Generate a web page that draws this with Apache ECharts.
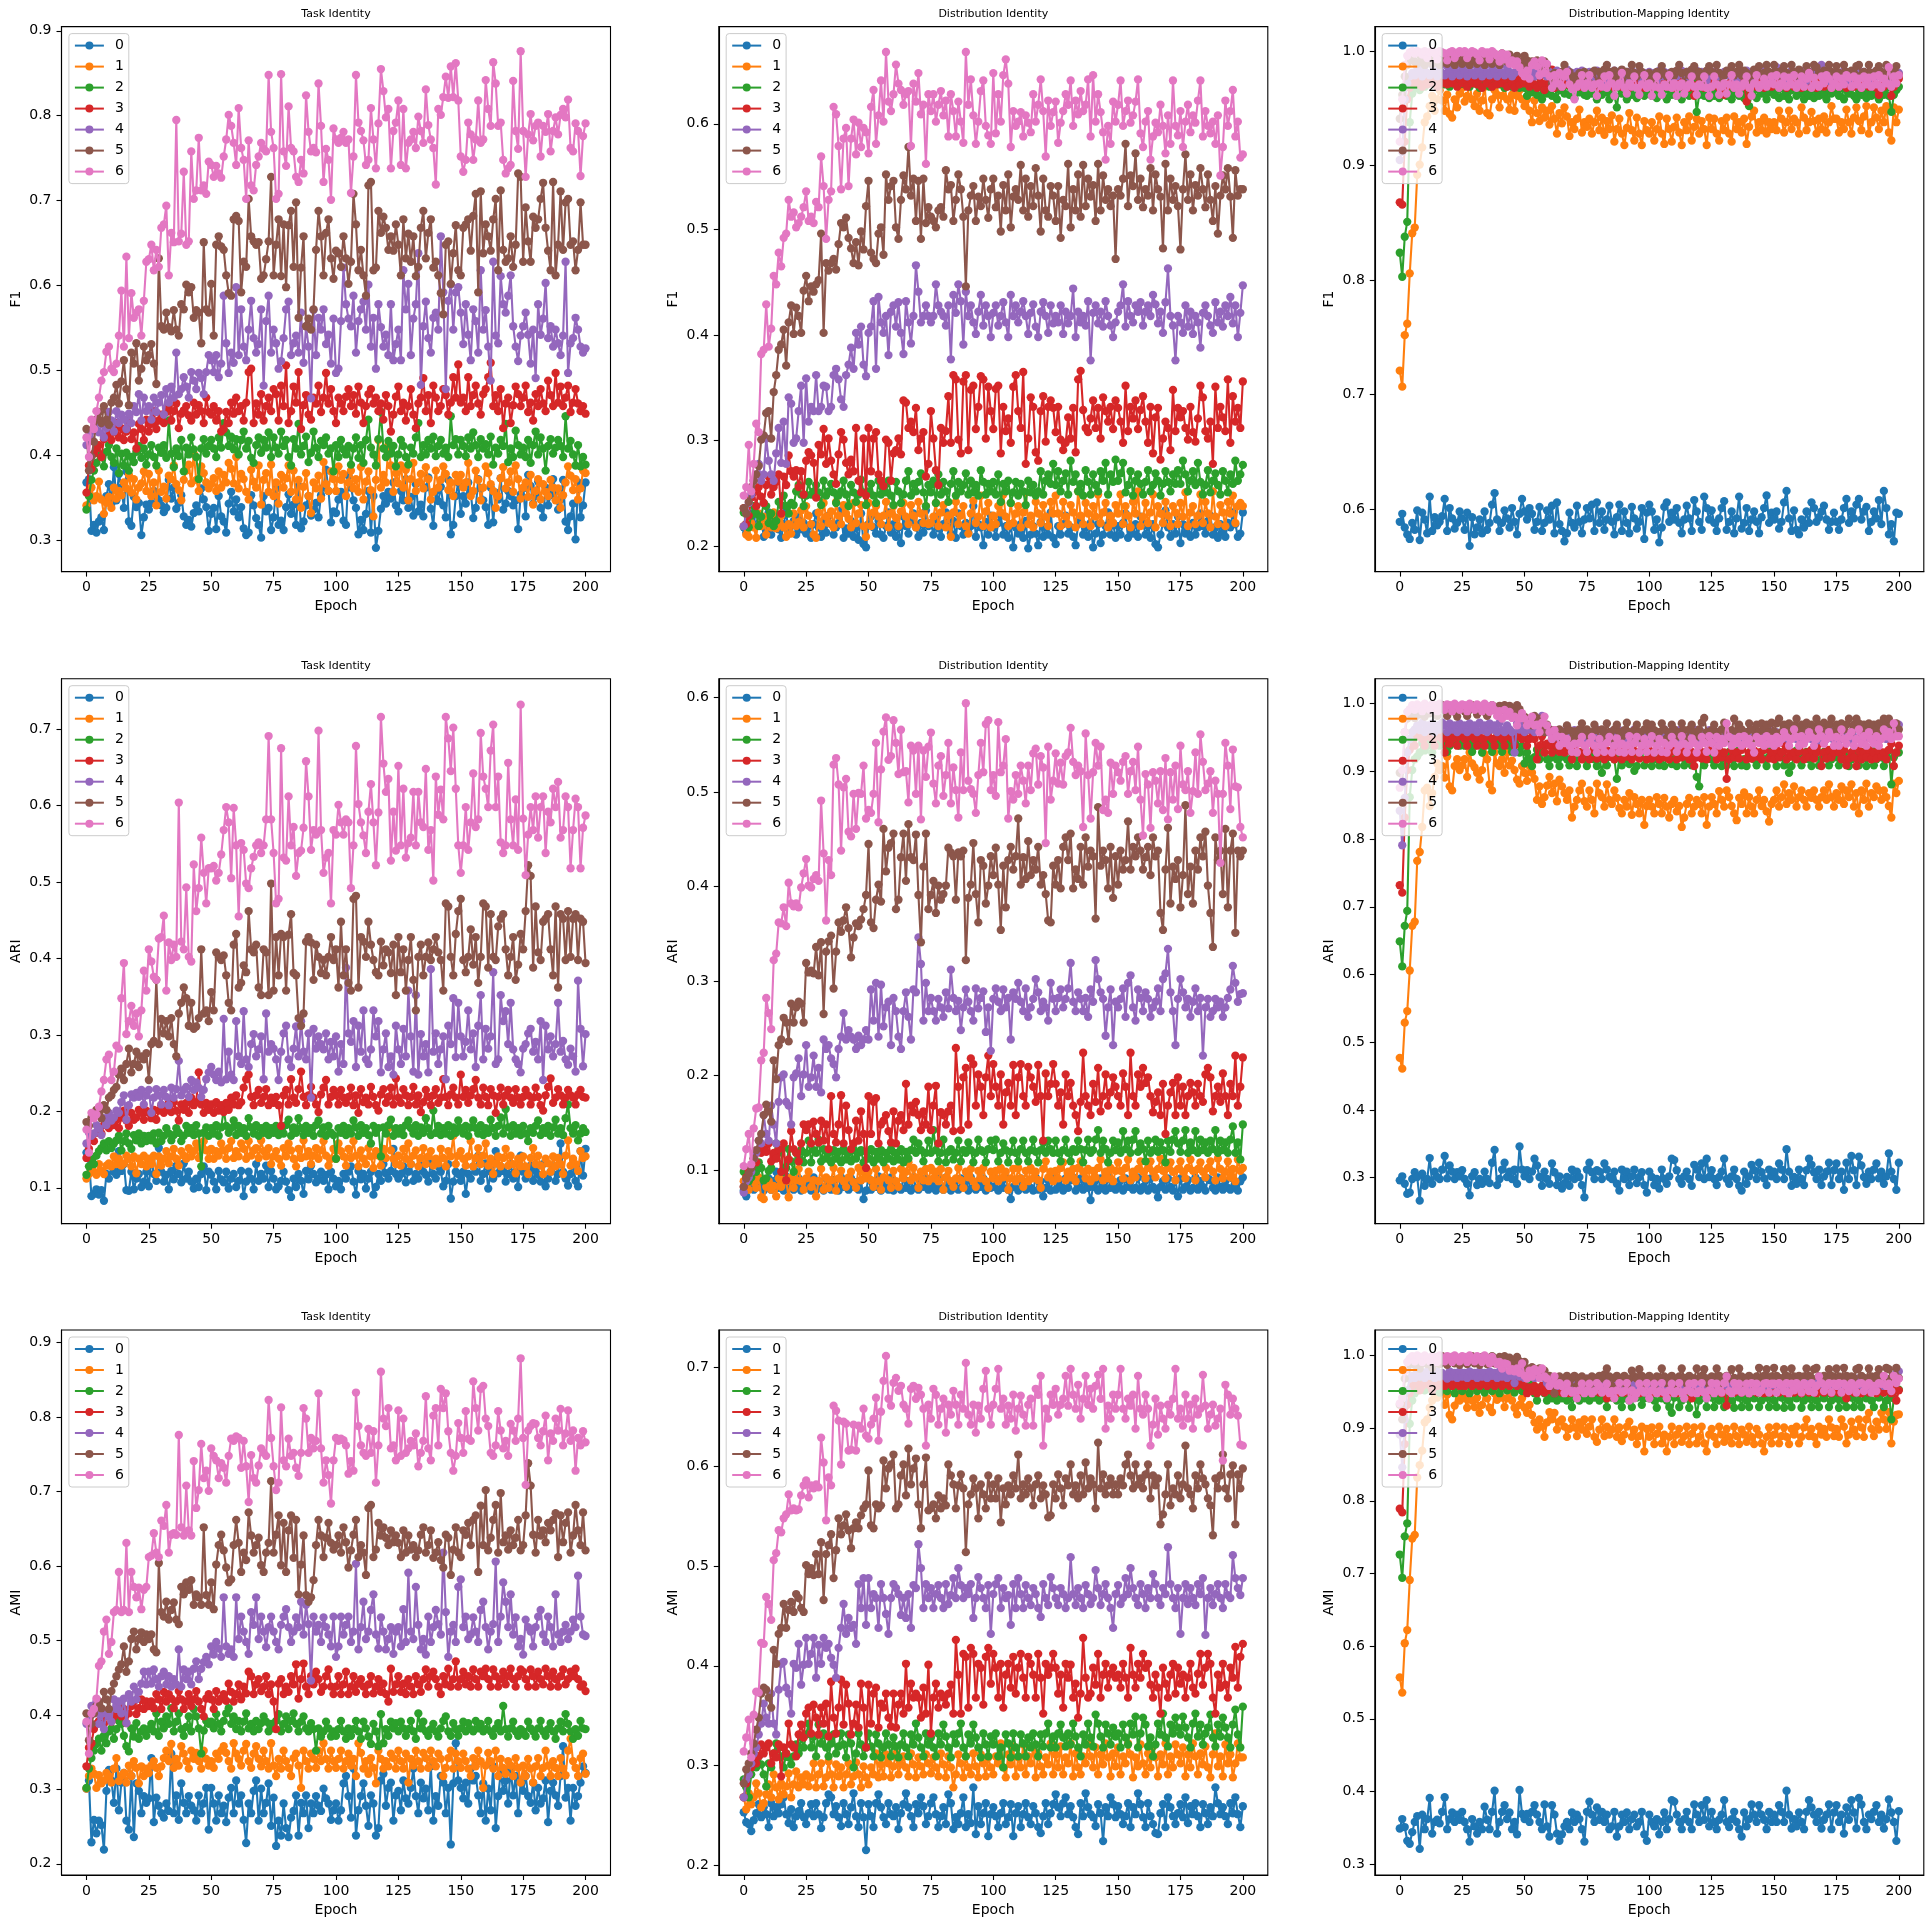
<!DOCTYPE html>
<html>
<head>
<meta charset="utf-8">
<title>Identity metrics per epoch</title>
<script src="https://cdn.jsdelivr.net/npm/echarts@6/dist/echarts.min.js"></script>
<style>
  html, body { margin: 0; padding: 0; background: #fff; }
  #chart { width: 1931px; height: 1927px; }
</style>
</head>
<body>
<div id="chart"></div>
<script>
// epochs 0..200 (x categories)
const epochs = Array.from({ length: 201 }, (_, i) => i);
const seriesNames = ['0', '1', '2', '3', '4', '5', '6'];
const colTitles = ['Task Identity', 'Distribution Identity', 'Distribution-Mapping Identity'];
const rowMetrics = ['F1', 'ARI', 'AMI'];
const xTicks = [0, 25, 50, 75, 100, 125, 150, 175, 200];

// y tick labels per panel [row][col]
const yTicks = [
  [[0.3, 0.4, 0.5, 0.6, 0.7, 0.8, 0.9], [0.2, 0.3, 0.4, 0.5, 0.6], [0.6, 0.7, 0.8, 0.9, 1.0]],
  [[0.1, 0.2, 0.3, 0.4, 0.5, 0.6, 0.7], [0.1, 0.2, 0.3, 0.4, 0.5, 0.6], [0.3, 0.4, 0.5, 0.6, 0.7, 0.8, 0.9, 1.0]],
  [[0.2, 0.3, 0.4, 0.5, 0.6, 0.7, 0.8, 0.9], [0.2, 0.3, 0.4, 0.5, 0.6, 0.7], [0.3, 0.4, 0.5, 0.6, 0.7, 0.8, 0.9, 1.0]]
];
// y axis limits per panel [row][col] -> [min, max]
const yLimits = [
  [[0.263, 0.905], [0.176, 0.692], [0.5455, 1.0215]],
  [[0.053, 0.766], [0.043, 0.620], [0.232, 1.037]],
  [[0.185, 0.917], [0.190, 0.737], [0.285, 1.035]]
];

// scores in thousandths, one list per cluster 0..6, one value per epoch 0..200
const f1Task = [
  [368,372,311,318,309,322,327,312,352,366,343,386,347,378,362,338,381,322,317,351,339,344,306,327,342,
   336,344,358,352,347,341,333,338,371,349,362,337,344,353,328,318,324,316,332,341,334,361,348,339,311,
   331,338,313,352,328,322,309,343,357,334,348,327,339,314,306,309,353,341,326,318,303,352,334,338,312,
   327,361,318,323,312,339,354,331,342,318,364,314,322,341,352,329,336,344,327,353,362,383,358,321,334,
   332,348,357,323,318,376,362,347,338,307,324,312,331,358,309,352,291,311,337,352,343,357,349,368,341,
   334,358,347,372,338,351,329,366,334,342,328,362,374,337,317,358,346,363,341,327,371,307,318,352,368,
   331,352,343,368,357,326,338,372,361,347,339,318,362,321,356,348,373,336,343,358,352,341,347,313,354,
   361,328,377,364,343,352,369,338,327,362,341,353,372,358,336,348,371,322,312,328,343,301,368,327,341,
   368],
  [341,353,362,347,352,369,348,331,344,351,338,362,349,358,353,368,361,377,356,372,348,362,367,381,358,
   378,352,368,341,382,357,363,349,376,372,388,366,359,347,371,382,389,367,402,371,358,387,379,368,361,
   366,373,358,381,362,377,368,391,384,367,398,361,378,372,357,348,383,369,362,388,342,371,379,357,389,
   352,368,343,377,362,373,388,357,382,348,371,338,363,379,352,332,368,361,376,349,392,366,358,381,372,
   358,387,371,378,352,368,382,361,372,357,386,348,369,381,359,328,371,418,362,377,368,412,388,357,379,
   367,388,362,383,347,372,391,358,368,378,361,386,372,348,357,382,362,371,387,378,359,368,352,377,369,
   377,362,368,391,352,358,382,371,347,362,387,379,366,358,338,352,373,386,361,368,381,357,388,372,349,
   362,368,351,377,342,358,372,348,366,357,352,371,362,347,361,338,353,368,387,376,359,372,348,361,382,
   379],
  [336,352,371,382,391,402,398,387,404,412,398,391,408,379,402,388,403,382,398,392,404,411,397,408,389,
   401,412,398,388,409,403,412,397,441,402,386,408,399,418,381,409,401,421,407,398,372,408,419,402,411,
   418,408,398,421,409,438,427,411,422,407,419,401,418,428,408,417,397,391,412,421,403,418,409,427,398,
   421,409,402,428,411,418,398,388,419,408,437,401,411,422,392,403,428,409,398,417,412,421,402,408,381,
   412,398,418,407,401,411,389,408,421,397,412,391,418,442,409,401,388,419,451,408,398,417,402,411,387,
   401,418,411,398,389,409,402,421,438,398,412,401,418,408,422,399,411,418,402,409,398,446,412,419,401,
   418,411,399,421,408,427,412,398,419,408,413,401,422,389,409,402,418,411,437,392,408,398,429,412,401,
   409,398,418,391,412,428,401,421,408,382,411,419,402,409,418,411,398,446,408,417,401,388,412,387,398,
   389],
  [356,388,384,402,408,412,398,419,422,428,418,427,438,421,432,418,428,441,419,427,408,437,431,418,442,
   428,437,452,431,441,448,438,451,458,441,452,461,432,449,453,458,447,441,462,448,459,452,438,468,451,
   448,458,441,452,428,431,451,438,462,449,468,452,458,441,462,498,502,438,461,448,472,441,458,468,452,
   478,472,441,482,458,506,438,452,481,462,498,431,459,471,448,442,468,461,482,451,468,497,461,478,452,
   438,468,461,452,469,478,458,471,449,481,462,438,458,472,478,461,468,452,461,442,471,458,428,448,469,
   481,452,462,441,458,478,448,432,461,468,491,452,471,438,482,468,452,458,478,471,448,462,492,468,507,
   462,468,452,492,458,471,482,461,448,472,478,492,509,458,471,452,478,432,461,468,438,459,481,472,458,
   468,482,451,462,441,472,458,478,461,452,488,471,458,497,462,481,458,468,482,451,462,478,461,452,458,
   449],
  [412,428,418,431,442,427,438,421,432,451,441,428,452,438,448,442,431,449,438,458,451,472,441,468,452,
   458,442,468,451,462,471,448,478,462,481,468,521,472,478,492,481,468,498,488,478,497,491,472,498,518,
   512,498,518,492,508,588,532,497,521,509,598,518,572,528,512,548,582,538,521,531,572,482,558,588,521,
   548,532,502,511,538,572,581,518,532,541,521,568,509,552,528,467,571,518,562,548,572,531,542,508,561,
   497,502,558,621,578,561,552,588,521,558,572,581,548,601,528,562,502,578,551,528,542,518,578,512,531,
   548,512,618,572,602,518,561,578,638,483,552,581,538,521,562,568,548,658,592,478,582,601,548,592,598,
   568,531,578,542,512,572,558,521,618,548,571,528,488,628,541,532,611,578,568,588,612,552,528,511,541,
   552,568,542,508,548,491,578,542,561,603,538,552,528,548,532,518,541,628,497,532,538,562,548,528,521,
   526],
  [431,382,398,416,442,451,438,458,442,436,462,468,483,461,487,512,478,459,521,508,532,488,502,528,512,
   518,531,508,484,632,552,548,568,551,546,571,548,541,578,572,601,592,598,562,571,568,532,651,572,568,
   602,541,648,658,646,642,612,591,588,678,682,676,592,628,622,702,658,652,648,651,608,612,631,652,728,
   612,648,678,611,672,598,671,688,622,698,562,621,658,552,561,548,572,642,688,658,612,662,678,632,608,
   641,638,622,658,632,602,628,708,672,618,642,612,588,718,722,618,621,688,662,681,668,642,658,641,672,
   648,612,678,632,661,628,658,611,622,668,688,632,662,678,621,628,612,591,566,648,652,602,638,671,618,
   612,668,672,678,641,682,708,592,711,638,672,658,641,678,702,618,712,642,628,632,658,622,648,732,728,
   628,692,652,628,681,668,678,702,721,668,641,618,722,612,648,711,642,698,702,648,652,618,642,698,648,
   648],
  [421,398,442,431,452,468,488,498,522,528,502,498,508,541,594,528,634,538,591,562,568,572,541,582,628,
   631,648,618,642,622,668,672,694,612,662,651,795,652,661,734,648,652,758,702,712,774,712,718,708,746,
   742,728,741,732,727,752,772,801,788,768,742,809,762,748,702,771,718,712,742,752,768,761,758,848,781,
   762,702,708,849,758,741,811,762,758,728,722,748,732,824,781,758,762,757,838,788,722,761,748,701,785,
   772,768,774,781,768,772,709,752,848,792,782,771,742,748,809,772,738,791,855,829,798,808,738,782,792,
   818,742,808,738,768,772,781,762,799,782,768,831,789,772,762,719,808,801,822,846,821,858,822,862,818,
   752,734,748,792,778,748,772,818,768,772,842,808,788,863,838,788,792,748,732,738,742,841,782,761,876,
   782,728,778,802,771,788,792,752,788,781,802,758,782,798,778,801,808,798,819,762,758,791,782,729,776,
   791]
];

const f1Dist = [
  [218,213,224,231,219,238,222,228,209,217,232,211,223,229,216,208,221,233,212,219,224,211,228,216,222,
   212,219,208,221,231,218,209,224,213,229,221,211,218,222,234,208,217,212,224,209,218,206,231,202,199,
   221,228,218,212,224,211,208,219,232,213,221,209,218,203,228,219,212,224,231,218,209,222,213,234,219,
   222,211,228,217,209,221,232,218,212,224,208,231,219,211,222,213,219,238,209,221,218,201,223,211,229,
   218,209,222,229,211,219,208,221,199,218,212,221,208,224,198,211,219,212,201,223,209,218,211,232,208,
   202,219,211,221,229,212,218,209,201,221,224,211,218,209,222,199,212,221,203,211,219,232,211,222,208,
   219,211,222,231,208,218,212,221,209,228,222,211,219,208,221,202,199,211,222,234,218,209,221,212,228,
   203,221,212,219,209,222,211,218,231,219,212,224,229,211,218,208,221,213,209,222,218,232,221,209,212,
   232],
  [219,211,209,222,218,208,231,219,228,211,221,218,232,217,222,229,218,209,221,212,231,219,223,234,218,
   238,229,221,211,208,232,219,241,228,222,233,218,242,229,221,239,231,226,218,241,222,231,239,219,209,
   241,219,232,238,228,221,229,242,218,231,238,227,219,233,241,228,221,239,229,218,242,231,222,238,221,
   222,228,241,219,232,239,218,229,209,232,242,221,229,238,219,212,231,243,222,228,248,219,233,241,218,
   229,221,238,232,249,228,219,241,222,231,238,218,232,251,221,229,218,242,231,222,239,228,219,242,231,
   248,231,219,242,228,221,239,232,218,252,229,221,241,231,219,238,228,249,222,232,241,218,229,222,239,
   231,249,221,238,229,218,242,231,252,219,228,241,222,232,249,218,238,231,222,242,229,219,238,232,221,
   241,228,251,219,232,238,221,229,249,222,242,231,218,252,228,221,239,232,219,242,231,248,222,238,241,
   238],
  [232,221,218,229,238,231,219,228,241,238,222,231,219,224,242,239,248,238,231,241,239,252,258,249,238,
   248,261,249,252,258,251,239,262,248,252,259,251,241,248,252,262,249,238,258,251,242,249,263,251,239,
   252,259,248,241,262,249,258,251,262,248,239,261,252,241,249,262,271,248,259,252,261,269,251,238,258,
   251,262,241,268,249,261,252,242,259,271,248,261,252,258,269,249,262,251,258,248,272,261,249,259,252,
   261,249,268,242,259,252,262,241,251,261,248,259,252,239,262,251,258,248,252,271,249,262,268,259,278,
   258,271,252,262,269,249,281,261,268,252,259,248,272,261,249,268,258,252,271,262,279,249,268,261,282,
   262,269,279,251,258,271,248,262,268,259,249,261,272,252,258,269,262,248,259,271,261,252,268,259,272,
   259,281,268,252,262,271,258,279,261,249,258,272,251,262,269,258,249,271,262,251,268,259,281,262,268,
   277],
  [236,221,229,246,251,238,256,247,241,258,266,249,256,261,268,231,266,258,286,271,266,272,256,271,249,
   281,289,286,279,246,296,287,311,278,302,281,268,259,287,308,301,279,268,282,271,312,262,251,302,248,
   312,271,302,308,268,262,257,301,298,262,288,291,302,287,338,336,312,318,308,331,291,302,308,266,278,
   328,302,272,258,312,298,309,342,298,362,358,301,288,356,362,291,348,352,311,332,361,358,302,351,328,
   311,349,352,288,332,309,321,298,351,362,328,312,365,278,302,341,332,289,281,328,342,299,332,338,331,
   308,332,301,291,298,322,302,331,289,358,366,329,312,308,321,338,312,331,302,341,328,318,332,311,338,
   331,318,298,352,309,332,321,338,311,329,342,318,298,332,288,322,331,282,302,318,312,291,348,309,331,
   322,328,312,301,332,308,299,321,352,341,309,302,318,278,351,312,332,322,309,358,298,342,318,331,312,
   356],
  [219,232,241,249,262,268,278,262,268,302,281,268,262,288,312,279,318,278,341,335,298,302,328,352,298,
   359,318,332,328,362,328,332,352,351,328,332,362,368,358,339,332,362,372,388,368,402,391,408,372,361,
   402,408,432,368,436,412,402,418,381,422,428,408,431,402,382,432,412,392,418,466,441,412,418,428,418,
   412,418,448,428,422,418,409,428,377,438,421,448,432,391,441,418,428,412,401,422,438,409,428,418,398,
   421,428,409,418,431,412,398,438,418,428,412,422,432,418,401,421,429,408,398,422,431,418,402,428,411,
   418,412,428,401,422,411,418,444,398,422,412,418,409,432,376,421,428,411,422,408,432,418,409,398,412,
   422,428,448,408,432,418,412,428,422,431,409,422,428,418,438,429,411,422,402,431,463,418,409,376,418,
   412,402,428,408,422,401,418,412,388,421,428,418,409,402,431,412,422,408,428,418,436,411,428,398,421,
   447],
  [236,231,242,256,262,268,276,301,305,326,328,302,346,362,386,391,405,371,412,428,401,426,418,402,442,
   456,432,446,441,448,452,496,402,468,461,468,472,462,486,506,502,511,492,482,468,488,466,498,481,522,
   546,478,472,468,496,502,476,552,528,541,546,502,491,528,551,538,578,532,548,508,546,491,548,506,521,
   512,508,502,518,521,512,556,538,542,508,528,552,538,512,446,518,532,541,508,531,522,548,528,511,538,
   548,521,532,498,542,518,552,502,531,538,528,561,518,548,512,541,522,558,532,498,548,518,512,541,532,
   508,541,492,528,522,562,502,538,518,552,512,561,522,548,531,542,508,562,518,551,528,538,522,532,472,
   538,532,548,581,522,551,541,572,528,548,521,538,532,558,518,552,538,531,482,562,518,548,528,541,522,
   481,538,571,528,552,518,542,532,558,538,521,552,528,508,541,496,532,551,538,558,531,492,556,532,538,
   538],
  [248,256,296,252,278,316,308,382,386,429,389,406,456,448,478,465,492,496,528,512,516,502,506,512,521,
   536,508,512,506,526,521,569,541,491,528,536,616,609,579,538,586,596,541,586,604,571,601,578,596,592,
   572,616,632,581,608,641,602,668,621,612,628,656,638,632,618,628,631,579,638,621,648,609,618,562,628,
   612,628,602,618,631,608,622,588,628,612,588,621,602,582,668,618,642,608,581,602,631,641,598,589,581,
   648,591,628,602,646,661,638,578,612,598,602,611,588,608,601,592,628,602,618,642,612,569,622,598,611,
   621,582,601,612,628,618,641,598,622,609,631,612,618,642,588,646,602,628,611,592,566,598,581,621,602,
   618,641,598,612,622,601,608,621,642,591,578,602,612,566,588,601,592,618,598,572,608,581,641,598,589,
   612,578,602,618,592,608,601,622,641,588,612,598,591,602,581,608,551,578,622,598,612,632,588,602,568,
   571]
];

const f1DistMap = [
  [589,596,584,578,574,588,582,599,573,597,591,579,611,581,593,586,589,594,609,581,601,592,583,588,598,
   592,582,597,568,593,578,584,591,579,598,582,588,604,614,591,581,588,599,592,584,601,589,578,596,609,
   598,591,601,596,582,589,602,581,588,599,591,603,579,606,587,581,572,579,597,588,584,603,589,579,591,
   601,592,604,581,606,588,598,582,591,603,589,578,593,604,581,598,588,579,602,592,583,589,601,574,597,
   604,598,582,591,571,584,602,606,589,597,591,601,588,579,591,603,592,581,608,598,589,582,611,601,591,
   599,588,581,592,601,607,582,589,598,579,592,611,583,588,601,581,591,598,589,579,593,601,612,588,597,
   591,598,583,589,606,616,592,581,599,582,578,591,584,598,588,606,601,589,593,598,603,591,582,589,597,
   589,582,591,601,609,588,598,592,604,609,591,598,602,581,589,598,592,608,587,616,601,578,587,572,597,
   596],
  [721,707,752,762,806,841,846,892,901,916,938,943,952,961,948,958,966,957,948,962,945,942,958,951,963,
   968,956,961,971,958,952,963,948,957,969,946,944,958,966,962,951,961,968,958,949,962,948,961,966,958,
   952,958,948,938,957,946,939,951,942,948,936,952,941,928,946,937,951,943,926,938,932,941,949,929,938,
   934,941,928,938,948,931,942,927,939,932,944,921,932,941,928,918,933,946,931,922,942,928,918,939,931,
   928,938,922,932,943,928,919,941,932,921,934,942,929,918,938,931,943,922,934,941,928,939,932,918,942,
   932,941,928,922,939,931,942,928,921,943,932,938,929,941,919,934,943,948,929,938,931,942,928,938,932,
   938,931,948,941,929,938,948,932,941,938,928,951,942,931,938,947,939,928,941,932,943,929,938,952,941,
   941,929,938,932,949,938,928,942,951,939,931,943,952,928,938,951,942,932,948,938,952,929,922,951,938,
   949],
  [824,803,838,851,938,963,968,971,966,972,969,978,972,976,971,978,973,977,971,976,969,978,972,977,971,
   976,971,978,969,977,972,976,968,978,971,977,969,976,972,978,971,976,968,972,977,969,976,972,968,976,
   968,961,972,964,969,962,971,958,966,963,968,961,972,958,966,969,963,971,962,967,959,968,964,971,962,
   961,968,963,969,958,966,962,971,964,958,966,961,951,968,963,969,958,966,962,971,959,964,968,961,966,
   968,961,966,959,971,963,968,958,966,962,969,961,967,958,964,968,961,966,972,947,962,968,961,966,959,
   966,961,968,959,964,969,961,966,958,963,968,961,966,959,964,952,962,968,959,966,963,969,958,964,968,
   962,966,959,968,961,964,958,966,969,961,963,968,958,964,961,967,959,965,961,968,962,958,966,963,969,
   964,961,968,958,966,963,969,961,958,966,962,968,959,964,961,967,962,958,965,962,968,961,947,962,966,
   969],
  [868,866,921,958,968,972,978,971,977,969,976,971,978,972,976,969,977,972,978,971,976,972,977,969,976,
   972,978,969,976,972,978,971,976,968,977,972,976,969,978,971,977,972,976,969,978,972,968,977,971,976,
   972,978,969,976,971,968,977,972,966,978,971,984,968,976,972,969,977,971,976,968,972,977,969,972,976,
   971,976,969,972,977,968,972,976,969,971,977,968,972,976,969,972,978,968,971,976,969,972,977,968,972,
   976,969,972,977,968,971,976,969,972,977,968,971,976,969,972,978,968,971,961,969,972,977,968,972,976,
   969,972,977,968,971,962,969,972,976,968,971,977,969,972,956,968,971,976,969,972,977,968,971,976,969,
   971,976,969,972,977,968,971,976,969,972,977,968,971,976,969,972,977,968,971,976,969,972,977,968,971,
   976,969,972,977,968,971,976,969,972,977,968,971,976,969,972,978,968,962,971,969,976,972,961,969,972,
   976],
  [905,912,958,972,978,981,979,986,982,978,987,981,979,988,982,978,986,981,979,987,982,978,986,981,979,
   986,982,978,987,981,979,986,982,978,987,981,979,986,982,978,987,981,979,986,982,978,981,983,987,981,
   979,982,986,981,978,982,979,987,981,978,982,979,981,983,978,982,979,984,976,981,979,982,978,983,981,
   978,982,974,981,983,979,981,978,972,982,979,983,978,981,979,974,982,978,983,981,979,982,973,981,978,
   982,979,981,974,983,978,982,979,981,973,982,978,981,983,979,982,976,978,981,983,979,982,978,974,981,
   979,982,978,981,973,982,979,983,978,981,974,982,979,981,983,978,982,974,981,979,983,978,982,979,974,
   981,986,979,982,978,973,981,983,979,982,978,981,983,974,979,982,978,981,983,988,979,982,974,981,978,
   982,979,981,983,978,974,982,979,981,983,978,982,979,973,981,979,983,978,982,979,981,974,983,979,982,
   981],
  [941,962,978,988,992,996,991,989,997,992,988,996,993,989,997,991,988,996,992,989,997,991,988,996,992,
   989,997,991,988,996,992,989,997,991,988,996,992,989,997,991,988,998,996,991,997,992,989,996,991,988,
   996,992,989,991,988,992,989,981,991,987,979,972,981,978,969,982,988,979,982,971,978,969,981,978,982,
   979,972,981,983,971,982,979,984,988,982,978,983,972,979,984,971,982,979,988,981,978,987,982,979,972,
   981,978,972,982,979,987,981,978,971,982,979,983,988,981,972,982,979,984,987,978,982,973,979,983,987,
   982,979,988,981,972,979,983,981,987,979,982,988,979,983,981,972,979,984,982,987,979,981,988,982,979,
   988,982,979,983,987,981,979,988,982,979,984,981,979,987,982,978,988,986,981,979,983,979,988,982,979,
   987,981,979,988,982,979,983,981,987,988,979,982,978,988,981,979,983,987,982,979,988,981,978,983,987,
   979],
  [921,958,988,996,999,1000,998,1000,999,997,1000,994,999,1000,998,993,1000,999,998,992,999,1000,994,998,1000,
   999,1000,994,998,1000,999,997,992,1000,998,999,993,1000,998,996,991,998,993,997,989,992,988,991,986,981,
   978,983,976,988,991,987,979,992,981,989,978,968,979,972,981,969,978,982,971,967,958,969,972,979,968,
   972,979,968,971,961,972,969,978,968,979,972,961,969,972,981,968,963,972,969,978,968,962,971,979,968,
   972,961,969,978,968,962,971,969,979,968,972,961,969,972,963,968,971,978,969,962,971,969,978,968,961,
   969,978,971,962,969,972,963,971,979,968,971,963,969,972,978,968,961,972,979,968,971,976,969,972,978,
   971,979,968,972,978,969,977,971,979,968,972,978,969,976,981,968,977,971,969,978,972,979,976,968,972,
   978,969,976,971,979,977,969,978,971,976,968,978,971,977,969,978,971,979,968,976,972,986,969,978,972,
   979]
];

const ariTask = [
  [146,138,89,92,98,91,97,83,118,112,128,121,117,148,122,131,97,96,121,98,112,118,101,108,121,
   102,137,118,109,152,121,108,117,98,122,111,129,118,107,132,112,121,108,99,112,101,118,128,97,121,
   117,108,98,122,111,107,121,99,112,118,101,109,122,89,108,121,112,98,131,109,118,112,129,101,122,
   112,98,102,109,121,108,97,88,112,101,118,109,92,122,111,129,118,107,112,121,109,117,98,121,112,
   102,109,98,118,112,121,128,108,91,122,111,118,99,112,121,91,101,118,109,131,119,112,122,151,118,
   112,118,128,107,121,131,109,118,112,129,121,117,108,132,118,112,128,121,102,109,131,86,108,121,118,
   109,121,92,118,112,128,121,142,109,118,132,99,121,112,148,119,128,122,108,118,131,112,121,101,142,
   121,112,118,129,109,122,117,108,131,102,112,121,128,109,118,158,121,112,103,118,131,109,102,148,116,
   151],
  [112,118,128,121,117,131,122,118,129,132,128,141,131,138,129,132,142,138,128,141,119,138,131,142,128,
   138,131,142,118,141,129,138,148,132,141,151,138,129,148,142,138,152,141,148,158,139,152,161,149,138,
   151,138,148,142,158,149,138,152,161,139,148,141,158,151,138,161,142,149,152,139,162,148,141,152,131,
   141,148,138,129,152,141,158,149,138,128,151,139,162,141,148,131,142,152,138,149,161,142,129,138,151,
   138,158,148,141,129,151,139,161,142,128,149,138,131,152,141,126,148,142,129,151,139,178,149,138,131,
   142,129,151,138,158,131,142,149,128,139,152,131,141,148,129,138,132,151,139,128,148,141,168,131,142,
   148,138,129,141,161,128,139,152,131,142,158,129,138,118,132,141,128,139,151,129,142,131,119,138,128,
   141,128,118,139,152,131,142,129,118,138,132,121,141,128,139,131,118,142,162,129,138,131,122,148,139,
   141],
  [117,128,138,131,142,148,152,158,149,161,152,158,162,168,149,161,171,158,151,169,162,171,158,168,161,
   168,162,171,158,172,161,168,178,171,162,169,178,172,161,168,181,172,178,169,182,171,128,172,179,168,
   178,171,182,168,179,202,181,172,178,188,169,181,172,178,168,191,179,171,182,168,178,172,181,169,178,
   172,181,169,178,171,182,189,168,179,172,191,178,169,181,172,178,168,182,188,171,179,168,181,172,169,
   138,178,172,181,169,178,171,188,179,168,182,172,178,169,158,181,172,178,141,179,171,182,189,168,178,
   171,178,169,182,188,178,171,182,168,179,172,191,178,169,201,172,181,169,178,171,182,168,179,172,188,
   178,171,181,168,179,188,178,171,182,169,178,172,189,178,168,181,192,171,203,179,168,182,171,178,169,
   181,171,161,178,172,181,188,169,178,172,181,168,179,189,171,178,169,191,209,178,171,182,162,171,178,
   173],
  [139,151,168,161,172,178,171,182,188,178,191,182,189,178,192,201,188,181,198,189,192,202,198,189,201,
   198,191,202,189,201,208,198,202,211,199,212,201,188,209,202,211,198,218,208,212,251,209,198,211,202,
   209,198,212,201,208,199,211,202,218,209,221,208,212,231,242,248,219,208,221,228,211,219,229,208,218,
   211,219,208,181,221,228,209,242,218,211,229,252,219,208,221,232,218,209,199,222,231,241,209,219,228,
   221,209,228,218,211,219,231,208,221,198,229,212,218,209,232,219,208,201,222,229,211,219,231,209,243,
   218,211,229,221,208,219,232,209,221,199,212,228,219,208,221,229,211,218,242,219,208,222,231,218,209,
   248,219,228,211,221,229,241,218,209,231,219,208,229,221,198,219,231,209,221,228,218,211,229,218,209,
   219,228,221,209,218,231,219,208,201,221,232,243,211,218,229,221,209,218,228,221,218,209,222,228,219,
   218],
  [158,172,168,171,182,178,169,191,182,198,188,192,201,198,212,221,189,208,222,218,224,219,228,209,221,
   228,198,218,229,221,209,228,219,208,231,218,229,266,221,228,232,219,241,228,238,231,219,228,242,251,
   258,248,241,252,238,321,242,278,248,241,318,272,262,331,268,258,288,301,272,281,298,242,328,278,288,
   282,268,241,278,302,312,268,258,282,311,272,318,278,268,302,218,308,282,298,288,281,302,268,291,272,
   298,252,288,262,388,302,291,318,258,312,278,332,268,262,281,332,298,318,251,281,302,258,272,248,312,
   281,262,308,272,358,298,252,352,248,301,272,288,251,386,278,302,262,281,298,242,312,288,348,271,342,
   298,272,291,332,281,302,258,312,352,268,308,282,298,382,262,268,352,318,331,288,342,281,268,262,251,
   282,288,302,308,278,291,268,318,241,312,281,298,272,288,342,278,292,268,261,282,272,252,371,308,259,
   301],
  [186,181,192,198,202,199,191,208,202,218,221,228,232,248,256,241,262,282,251,262,278,258,272,268,276,
   241,288,292,372,288,321,302,318,298,322,288,272,328,342,362,348,312,342,308,311,322,412,328,332,318,
   356,332,408,402,398,404,378,342,332,418,432,362,368,391,382,462,412,408,418,362,352,412,408,352,498,
   358,428,378,432,428,358,431,458,381,378,322,312,328,422,428,421,372,418,402,381,398,378,402,428,398,
   412,362,448,378,412,368,358,478,482,362,428,422,402,448,418,398,382,378,422,391,412,408,381,418,352,
   428,382,412,358,398,428,372,332,402,418,378,402,421,398,412,428,408,398,358,472,468,402,378,432,462,
   478,398,382,402,438,392,428,368,402,472,468,388,458,402,398,442,452,458,412,378,402,428,372,392,432,
   412,462,522,508,388,468,408,398,448,452,458,412,378,468,362,458,452,398,462,402,452,458,398,452,448,
   394],
  [176,146,198,191,196,206,226,241,268,274,241,252,286,282,348,394,301,318,338,312,328,298,332,384,358,
   412,396,376,372,426,428,456,358,421,398,418,402,604,422,412,493,402,396,523,462,492,558,512,472,518,
   518,521,502,512,536,568,598,578,505,597,548,455,551,542,498,492,518,533,548,552,538,548,582,691,582,
   538,472,478,675,532,528,612,548,572,508,538,541,571,658,612,542,568,562,698,568,512,532,538,472,568,
   562,601,578,562,582,578,492,548,678,602,578,561,538,592,628,578,522,591,716,655,618,635,528,592,541,
   652,548,622,532,551,558,618,548,618,578,572,648,542,568,502,638,588,621,582,716,688,645,702,622,548,
   512,548,598,542,578,642,572,582,695,638,622,598,672,706,598,638,552,538,548,656,582,548,608,542,732,
   583,509,562,598,568,612,558,598,612,538,592,578,622,598,631,558,568,612,598,518,568,609,598,518,571,
   587]
];

const ariDist = [
  [78,72,81,88,79,92,82,87,78,83,91,79,88,98,81,89,78,93,82,86,79,84,91,78,88,
   81,87,78,92,79,88,82,78,91,87,79,89,81,78,92,82,88,79,91,82,87,79,89,69,78,
   91,79,88,82,93,78,87,81,79,92,78,86,82,79,91,81,88,78,92,81,79,88,82,91,79,
   88,82,78,91,81,79,92,82,78,81,89,79,91,82,88,78,92,81,79,88,82,91,78,87,81,
   82,91,78,88,81,92,79,69,82,89,78,91,82,79,88,81,78,92,79,88,72,81,89,78,91,
   79,88,82,78,91,81,89,92,78,82,91,79,88,81,68,82,89,78,91,82,78,92,81,88,79,
   82,89,78,91,82,88,79,81,92,78,82,89,78,91,82,79,71,82,88,79,91,82,78,89,72,
   91,79,82,89,78,81,92,79,88,82,78,91,89,81,78,92,82,79,88,81,79,91,82,78,88,
   92],
  [88,82,79,91,87,81,92,71,69,82,88,79,83,72,91,82,102,88,71,92,81,89,101,88,79,
   91,98,82,89,72,88,101,79,92,81,89,102,78,91,99,88,82,92,98,87,81,102,89,98,91,
   98,89,82,101,88,79,92,102,89,81,99,88,82,101,91,98,108,89,102,92,81,98,89,101,88,
   102,91,98,88,101,79,92,99,88,82,91,102,89,81,98,92,101,88,82,99,91,102,88,81,98,
   91,99,88,102,92,98,79,91,101,88,102,91,82,99,88,102,91,98,89,81,101,109,92,98,88,
   99,91,102,108,89,98,92,101,88,102,109,98,91,101,88,99,92,102,111,89,98,91,102,88,99,
   108,99,91,102,111,89,98,92,101,109,98,91,102,109,98,92,101,112,99,91,102,108,98,89,101,
   109,98,91,102,111,99,89,101,108,98,92,102,109,98,89,112,101,91,98,109,92,101,88,111,99,
   102],
  [98,91,88,92,101,98,108,102,89,91,99,102,112,128,118,121,98,102,122,109,98,118,112,121,108,
   118,131,108,121,118,132,109,122,112,118,108,121,112,119,108,122,111,118,109,122,112,118,121,108,119,
   112,122,108,119,112,121,108,118,112,122,109,118,111,122,108,119,112,121,132,118,128,121,109,118,131,
   118,142,121,109,118,132,108,119,122,111,118,131,109,121,118,129,121,108,118,132,121,119,108,122,131,
   121,132,109,118,128,121,108,119,131,118,109,122,131,118,109,121,132,119,108,121,129,118,131,122,118,
   131,118,109,121,132,118,109,122,119,131,122,108,121,132,118,121,132,142,118,131,122,108,118,131,121,
   129,118,141,122,131,118,132,141,119,128,122,109,131,118,121,132,119,129,121,108,131,119,132,141,128,
   119,131,142,118,129,121,141,118,132,121,129,118,131,122,142,118,131,121,129,118,132,146,118,129,111,
   148],
  [82,92,98,102,112,108,121,118,122,119,128,109,118,112,122,98,128,89,111,141,122,118,109,128,148,
   142,148,128,151,138,129,152,131,148,122,178,138,129,148,179,128,168,142,122,128,152,131,162,138,102,
   178,138,172,176,128,148,152,158,141,129,162,128,152,158,142,191,148,168,161,172,158,142,162,148,188,
   142,168,189,128,161,158,148,162,168,141,229,188,142,198,208,148,218,212,168,201,188,158,198,221,178,
   212,188,168,201,148,182,192,168,211,158,198,212,178,168,209,198,188,172,211,178,131,202,178,191,212,
   191,168,182,148,201,178,192,168,158,141,172,224,178,168,158,191,172,208,162,178,201,168,182,198,188,
   178,168,202,188,158,224,178,168,201,188,208,192,198,178,161,172,182,158,191,138,168,182,192,158,198,
   168,188,158,178,192,182,168,191,178,172,201,208,198,162,178,188,172,202,178,158,191,178,221,168,188,
   219],
  [76,88,92,98,112,118,131,128,158,138,131,168,148,128,172,198,201,172,168,148,198,202,218,178,201,
   232,188,198,221,188,208,182,238,228,232,218,212,198,228,241,266,238,248,241,238,228,242,232,238,248,
   238,291,258,298,241,296,252,272,278,232,282,268,241,228,268,288,262,238,291,288,346,318,258,298,268,
   282,268,258,281,272,262,288,271,312,282,268,279,248,272,291,278,268,258,292,271,282,289,246,272,226,
   281,292,278,268,291,272,282,238,288,281,298,278,268,292,262,272,281,302,288,268,278,272,258,298,281,
   268,282,291,272,281,292,319,278,268,288,281,268,282,262,291,278,322,302,288,281,242,272,291,232,278,
   272,281,292,262,298,306,272,258,291,282,268,288,281,262,272,278,292,268,302,308,334,288,268,232,281,
   302,288,272,281,262,278,292,268,282,221,272,281,262,268,281,272,278,262,272,282,291,316,298,278,286,
   287],
  [82,91,96,102,112,121,131,138,158,169,162,151,216,196,232,238,261,256,236,276,256,272,278,276,256,
   319,309,311,308,336,306,341,265,331,342,348,292,331,362,352,364,378,356,325,346,361,358,365,376,391,
   445,362,356,386,402,384,461,416,441,446,456,376,386,431,456,406,466,431,428,455,391,341,421,456,376,
   391,406,372,401,386,392,401,441,436,432,386,436,432,438,322,388,402,446,392,362,428,422,382,401,432,
   412,441,402,354,422,378,428,442,418,432,472,402,431,408,448,412,428,418,442,402,412,392,364,362,422,
   402,428,398,442,452,428,456,398,418,408,442,402,452,421,438,432,366,484,422,438,428,398,442,388,432,
   402,438,418,428,469,418,442,432,452,438,418,431,442,412,452,432,438,372,354,418,462,382,421,408,428,
   378,412,486,392,421,382,438,418,452,432,458,401,372,336,452,428,438,392,461,378,438,456,351,438,432,
   438],
  [104,122,138,106,144,165,166,216,224,282,266,249,322,329,362,361,378,358,404,382,379,382,378,399,414,
   429,401,399,408,412,406,491,435,364,428,412,529,536,508,438,505,514,458,453,498,461,499,498,528,472,
   481,478,498,552,468,524,564,579,534,538,576,552,519,566,521,522,489,549,544,498,549,471,544,516,548,
   563,509,488,528,538,496,518,552,488,526,502,473,542,502,594,512,503,498,478,518,552,521,572,576,502,
   518,496,574,521,528,556,472,501,492,518,498,528,512,488,528,502,541,546,508,538,526,446,548,492,512,
   541,509,531,508,538,542,568,532,518,528,522,463,562,518,472,521,552,528,548,481,492,478,531,498,528,
   521,512,532,538,498,522,532,502,548,492,454,519,508,462,521,512,488,522,481,536,471,521,492,528,482,
   549,508,502,522,478,501,542,498,561,532,502,509,522,478,512,498,425,498,552,528,482,545,506,505,463,
   452]
];

const ariDistMap = [
  [296,302,291,276,278,298,308,301,266,306,288,298,329,291,309,301,298,312,332,299,318,309,298,308,302,
   311,298,291,274,302,308,289,298,291,309,298,292,322,341,289,298,312,322,301,309,298,312,291,346,312,
   302,311,298,309,328,318,301,288,309,298,291,321,308,289,302,284,292,301,288,312,298,309,301,289,271,
   312,322,308,298,311,309,298,321,312,301,298,309,291,281,312,298,309,289,302,312,292,301,308,289,278,
   309,301,289,298,284,312,298,291,302,328,326,311,298,291,302,309,298,288,319,312,301,321,298,328,301,
   311,298,289,301,309,328,298,291,302,312,298,288,281,309,291,302,319,311,298,322,308,299,289,312,302,
   309,298,321,312,298,342,309,288,301,291,312,298,289,311,328,319,308,298,312,289,302,309,322,289,311,
   321,298,309,282,322,298,332,311,289,331,318,301,291,309,298,312,321,299,309,291,302,336,309,298,282,
   322],
  [477,461,529,546,606,672,678,768,781,818,872,876,849,868,892,912,902,908,891,922,878,872,908,918,902,
   909,918,892,928,912,906,898,888,902,926,918,881,872,928,912,908,918,898,928,909,916,902,888,882,908,
   898,886,908,898,889,858,878,852,862,879,892,868,882,856,888,878,868,858,872,832,848,858,872,882,856,
   848,872,858,838,882,868,862,848,881,858,852,872,861,846,838,858,848,868,836,862,852,838,858,821,849,
   858,848,838,862,852,838,861,848,832,852,858,841,849,818,832,852,861,838,848,858,852,838,862,821,848,
   862,852,838,871,858,848,872,862,849,838,828,861,852,869,838,862,848,838,858,872,849,858,841,826,852,
   858,872,848,862,881,852,868,858,878,848,862,872,858,848,868,861,872,858,848,862,872,858,881,862,848,
   868,858,878,852,872,862,881,848,868,838,872,858,882,848,868,862,878,872,858,872,862,849,832,882,868,
   886],
  [649,612,672,694,862,902,918,922,928,942,931,938,944,928,941,948,938,952,941,929,938,951,942,948,938,
   948,938,951,942,929,938,952,941,928,938,948,938,929,942,951,938,929,942,948,938,929,941,952,928,938,
   912,928,918,908,921,932,918,928,938,918,908,921,929,918,908,922,931,918,909,928,919,908,921,929,918,
   908,921,929,918,908,922,898,918,909,922,931,918,889,921,909,918,929,911,921,901,908,922,931,909,918,
   921,908,918,929,909,921,908,922,931,911,918,908,929,921,909,918,931,909,922,892,878,921,909,918,929,
   918,909,922,931,908,921,909,929,918,908,921,932,909,918,908,922,931,918,909,921,929,918,908,922,931,
   919,908,929,921,909,918,898,908,922,931,918,909,921,929,918,908,921,932,909,918,929,921,909,918,928,
   921,909,918,929,921,908,918,931,921,909,918,929,908,921,932,909,918,929,921,908,918,931,881,921,928,
   928],
  [732,721,832,902,932,948,938,952,958,948,938,952,961,948,938,952,958,948,928,952,941,948,958,938,952,
   958,948,938,952,961,948,938,958,948,938,952,961,948,938,952,958,948,938,952,961,948,938,952,958,948,
   952,938,948,958,948,918,938,952,928,941,938,928,948,938,929,942,928,938,931,918,932,941,928,918,932,
   928,918,941,932,919,928,942,918,931,922,928,918,932,941,918,931,922,928,918,942,928,919,932,941,918,
   931,919,928,942,918,928,921,932,918,929,941,918,928,921,932,942,918,929,908,921,932,919,928,918,931,
   942,928,918,932,921,928,889,918,932,921,928,919,932,941,918,928,919,931,922,928,918,932,941,919,928,
   918,932,921,928,941,918,931,922,928,918,929,942,918,928,921,932,919,928,941,908,928,919,932,921,928,
   941,928,918,932,909,919,928,921,908,931,918,928,921,932,918,928,919,931,922,928,918,932,941,908,928,
   938],
  [842,791,861,928,948,958,962,968,961,972,958,968,962,971,958,968,962,972,968,958,971,962,968,958,971,
   962,968,958,971,962,968,958,972,961,968,958,971,962,968,958,972,961,958,968,962,958,928,971,962,968,
   958,968,962,971,958,968,961,982,968,958,962,948,958,952,949,958,951,962,948,952,961,949,952,958,951,
   948,958,951,946,962,952,948,958,951,946,959,952,948,961,952,946,958,951,948,962,952,946,958,951,948,
   961,952,946,958,951,948,962,952,946,958,951,948,961,952,946,958,951,948,962,952,946,958,951,948,961,
   952,946,958,951,948,962,952,946,958,951,948,961,952,946,958,951,948,962,952,946,958,951,948,961,952,
   946,958,951,948,962,952,946,958,951,948,961,952,946,958,951,948,962,952,946,958,951,948,961,952,946,
   958,951,948,962,952,946,958,951,948,961,952,946,958,951,948,962,952,946,958,951,948,961,962,958,966,
   969],
  [898,882,958,978,982,988,979,992,984,989,981,993,986,991,988,982,994,998,991,982,989,997,988,981,992,
   996,989,982,991,998,992,984,991,997,988,982,991,998,992,988,997,991,998,989,997,991,988,998,992,982,
   981,972,978,968,982,971,978,968,958,969,962,948,961,952,962,949,958,968,961,948,959,951,962,971,958,
   962,952,958,969,961,948,962,951,971,958,949,962,969,958,951,961,972,958,948,961,969,958,949,962,971,
   958,969,961,948,958,971,962,949,958,969,962,951,958,971,961,948,962,969,958,951,962,972,979,958,949,
   961,969,958,951,962,972,958,949,961,978,958,969,962,951,958,971,962,949,969,958,971,962,969,958,972,
   959,971,978,958,969,962,971,958,968,978,958,969,961,972,958,969,958,978,969,958,972,961,969,978,958,
   969,958,971,962,969,978,958,969,978,971,958,969,962,971,958,969,962,971,958,978,971,978,969,958,971,
   962],
  [876,902,958,988,992,998,991,999,997,989,1000,996,991,999,998,989,1000,996,991,999,998,989,1000,997,991,
   999,998,989,1000,996,991,999,997,989,1000,996,988,998,991,982,989,978,991,982,988,979,981,968,978,986,
   978,968,971,981,968,969,958,972,981,968,958,948,961,952,938,951,942,948,938,929,941,928,942,951,938,
   929,942,951,938,928,948,938,929,942,951,928,938,949,929,941,928,938,952,929,942,951,928,938,948,929,
   941,952,928,938,948,929,942,928,938,951,942,929,938,952,941,928,938,949,942,928,938,951,942,929,952,
   942,928,951,938,948,942,971,951,938,948,942,951,938,952,941,948,938,928,951,942,948,938,952,941,948,
   938,951,942,948,958,951,938,948,962,951,938,952,941,948,958,951,938,948,962,952,941,948,958,951,938,
   951,938,962,948,941,952,958,938,948,962,941,952,938,958,948,941,952,938,948,962,952,958,948,971,952,
   952]
];

const amiTask = [
  [301,312,229,259,241,258,252,219,298,326,312,282,328,272,309,322,258,246,318,236,308,298,268,291,282,
   288,342,256,289,278,268,262,281,271,348,268,292,259,308,282,268,291,278,272,258,292,268,281,302,246,
   302,281,258,292,268,278,256,289,302,268,312,281,292,259,228,281,268,298,312,258,301,268,282,308,251,
   289,224,258,238,281,248,236,262,271,292,238,282,268,292,248,281,268,291,278,271,301,288,281,259,272,
   281,258,272,308,318,291,262,328,238,272,291,308,278,251,292,281,238,248,312,321,278,302,309,258,292,
   298,272,312,288,281,302,328,291,268,309,288,301,272,331,258,291,278,318,309,268,302,226,308,362,312,
   302,288,309,281,328,312,318,292,268,308,258,301,272,331,248,291,322,298,312,281,328,292,318,268,309,
   298,318,291,282,309,272,302,281,288,312,256,298,309,292,278,318,358,289,302,258,302,278,291,309,331,
   322],
  [301,318,328,321,302,319,308,312,322,318,309,328,342,311,318,322,309,332,318,338,329,308,331,318,328,
   322,332,338,329,318,331,342,352,338,361,329,341,332,358,348,338,328,352,341,349,338,328,352,341,332,
   338,329,348,341,352,358,349,338,328,362,348,341,332,352,361,338,329,348,358,341,331,352,338,328,362,
   332,318,341,328,352,338,329,318,342,348,332,302,352,338,328,348,341,329,352,338,362,341,328,352,338,
   329,341,352,328,338,348,332,341,318,362,349,328,338,321,342,329,308,352,341,328,338,331,348,342,328,
   352,338,328,348,309,341,332,352,338,328,349,342,329,352,338,331,348,341,318,329,342,352,328,348,338,
   329,348,338,328,318,342,331,352,338,302,332,349,338,328,352,318,341,329,321,338,332,318,342,329,309,
   332,318,341,328,309,331,342,318,329,352,332,318,338,329,318,342,328,319,352,368,338,329,318,342,348,
   321],
  [302,328,342,352,361,368,352,372,362,378,382,368,381,392,388,372,358,351,382,371,389,368,378,382,372,
   381,388,378,402,372,391,382,398,388,409,378,391,402,381,372,384,398,378,408,398,382,348,379,392,388,
   391,382,401,388,378,392,402,409,388,398,381,392,378,391,402,382,388,378,392,381,389,398,391,378,388,
   382,392,401,378,388,398,381,392,402,388,378,391,398,382,378,389,381,352,382,371,378,391,382,371,378,
   372,381,392,378,368,382,372,381,392,378,368,391,382,371,361,388,378,358,401,362,381,372,391,382,389,
   378,391,382,372,381,392,378,368,402,382,391,378,372,381,388,378,371,382,392,398,378,372,389,381,372,
   382,391,378,389,381,378,392,382,388,378,381,392,378,372,382,389,378,412,381,371,382,391,378,372,381,
   378,372,391,382,378,371,382,392,378,372,381,389,378,368,382,391,378,401,388,378,368,381,372,392,382,
   381],
  [331,356,362,381,388,392,402,388,398,402,391,398,403,412,398,408,389,402,412,418,401,409,421,408,418,
   412,418,409,428,421,408,431,418,428,422,409,418,432,421,408,418,428,412,421,432,418,408,398,422,428,
   421,408,432,418,422,428,419,442,431,418,428,441,421,438,429,458,452,428,441,448,432,438,452,428,441,
   418,381,442,448,428,438,431,452,441,468,422,448,469,438,428,452,441,458,448,431,438,452,461,438,428,
   438,452,428,441,458,428,438,452,431,442,448,438,428,441,452,429,438,448,431,442,428,418,462,431,441,
   452,431,442,428,448,438,428,452,441,431,448,461,438,452,458,448,438,428,452,441,462,438,448,472,438,
   448,458,441,452,438,461,448,438,458,452,462,448,438,461,452,438,448,458,441,452,462,448,438,452,461,
   458,448,438,461,452,438,458,448,441,462,452,438,458,448,438,452,461,441,448,458,452,462,448,438,441,
   432],
  [388,392,412,402,418,388,401,381,402,398,391,421,408,418,402,422,389,428,418,438,421,431,442,458,441,
   458,442,461,448,438,452,458,441,452,438,448,441,488,438,461,448,458,441,462,472,448,462,471,478,468,
   492,481,498,489,478,558,492,482,488,478,558,502,532,512,498,482,538,521,558,502,532,512,491,518,532,
   512,498,488,521,532,542,518,498,512,531,518,552,508,548,522,446,532,512,521,498,531,518,508,492,532,
   478,492,532,508,521,532,498,512,603,488,518,552,502,512,541,562,508,489,531,512,488,502,518,482,512,
   518,492,542,498,591,512,502,572,521,488,502,481,532,498,518,541,522,508,618,538,478,512,521,498,572,
   582,518,532,502,508,531,512,498,541,552,518,488,512,522,606,498,532,578,552,518,562,508,531,492,502,
   481,528,518,512,492,518,532,541,508,498,532,518,492,562,508,498,512,521,502,512,528,518,587,532,508,
   506],
  [402,366,388,402,412,418,409,431,421,408,432,442,452,461,468,492,458,472,502,512,488,502,511,498,508,
   502,508,488,484,604,538,532,552,528,541,551,528,522,572,562,578,568,581,548,562,558,548,652,561,548,
   578,542,602,628,642,621,598,578,582,628,662,631,592,618,608,672,641,618,628,638,601,592,618,631,714,
   618,642,668,601,658,592,648,668,611,662,562,602,641,561,552,558,581,628,662,641,612,638,658,631,622,
   628,641,618,652,632,598,621,642,662,612,628,618,588,678,682,612,622,658,641,652,638,628,648,632,641,
   631,612,648,618,641,622,628,612,621,642,652,618,628,648,611,618,632,608,598,642,638,588,622,652,618,
   612,648,642,658,628,662,668,592,681,628,702,621,638,662,682,618,698,632,641,622,648,628,638,662,621,
   628,668,738,708,642,618,662,641,648,632,658,648,662,671,612,668,632,658,672,618,641,682,648,628,672,
   621],
  [391,348,402,408,422,466,472,512,528,482,498,538,541,592,538,541,631,538,592,572,558,571,542,568,572,
   612,614,644,618,612,661,654,682,618,642,644,642,776,652,641,708,648,641,741,678,702,764,718,728,701,
   758,748,742,718,738,732,712,748,771,768,774,772,732,768,734,686,749,718,712,735,758,752,748,823,772,
   734,702,712,813,742,734,771,748,752,732,721,752,812,798,752,772,758,768,832,758,712,742,722,684,742,
   772,768,771,769,762,724,741,728,833,788,762,752,748,784,752,781,712,762,861,798,788,812,758,762,742,
   809,748,798,752,758,768,762,778,734,752,768,828,758,742,802,812,762,838,812,832,781,752,728,748,792,
   772,752,808,771,768,848,812,782,838,842,798,788,752,748,762,808,782,758,768,748,791,782,768,798,879,
   772,709,782,788,792,791,772,762,781,802,742,778,768,798,782,811,762,778,809,768,782,728,772,762,781,
   766]
];

const amiDist = [
  [253,243,241,234,245,252,261,248,258,251,238,262,249,258,252,261,268,251,242,256,238,249,254,262,248,
   241,252,261,249,262,251,237,248,262,271,268,251,259,248,239,262,251,241,258,272,249,238,262,248,215,
   261,249,238,262,271,258,248,241,262,251,249,258,236,252,261,272,258,249,238,261,252,268,259,241,249,
   262,268,251,238,249,258,241,271,262,236,248,241,252,268,238,251,242,278,231,259,241,252,262,229,251,
   258,249,238,252,262,241,248,261,229,252,259,238,251,262,248,241,259,252,238,232,249,262,241,252,261,
   271,258,249,262,268,251,259,248,238,231,262,249,272,258,251,248,239,261,252,224,258,249,268,261,248,
   259,251,241,249,262,238,258,251,272,261,248,238,262,249,241,232,231,252,261,238,268,258,249,241,252,
   261,248,268,242,259,251,262,249,238,261,252,241,258,249,278,262,251,258,249,241,262,252,268,251,238,
   259],
  [268,256,272,261,268,282,272,258,262,271,281,268,291,278,266,282,271,279,292,268,281,294,278,288,281,
   291,279,288,302,278,291,302,279,288,304,291,278,301,289,298,278,291,302,281,289,303,291,278,299,288,
   281,298,291,312,288,301,289,311,302,288,299,312,291,301,309,298,289,312,301,288,308,299,291,311,302,
   292,308,298,289,312,301,288,309,298,278,291,311,302,288,309,298,291,312,299,288,311,302,289,308,298,
   291,309,302,322,298,288,311,301,319,289,308,298,321,291,309,302,318,288,312,299,291,308,301,322,291,
   311,298,319,291,308,302,322,289,312,298,291,309,302,321,309,298,318,291,311,301,322,308,289,312,299,
   318,291,309,302,322,311,288,308,299,321,302,291,312,298,319,308,289,311,301,322,291,309,298,321,311,
   302,318,289,311,298,322,309,291,312,301,319,298,288,311,332,299,309,289,321,302,311,288,302,322,308,
   308],
  [286,278,268,291,302,298,309,301,291,279,302,298,312,322,318,309,298,312,308,301,309,321,312,328,318,
   331,342,318,329,309,341,322,332,318,309,322,331,312,319,332,321,308,331,322,298,312,332,321,309,318,
   332,319,309,331,322,308,318,332,321,309,328,319,308,321,332,318,309,331,321,342,328,318,309,332,321,
   328,318,309,332,321,341,329,318,308,331,322,332,342,318,309,331,322,341,328,318,308,332,321,309,329,
   321,332,309,318,298,331,322,308,332,318,309,331,322,309,328,318,332,321,309,331,319,332,342,318,329,
   318,332,341,328,319,332,321,342,329,318,309,331,321,342,328,319,351,342,329,318,341,332,321,338,329,
   332,318,341,328,321,342,331,349,318,332,348,341,319,328,309,321,342,331,352,328,319,341,332,348,338,
   331,349,338,328,318,342,352,329,341,321,332,338,351,328,319,341,329,348,338,328,318,341,356,331,318,
   359],
  [268,282,291,298,312,302,309,321,312,318,322,302,312,308,321,289,318,312,342,321,318,309,331,341,328,
   352,358,332,361,348,331,358,342,362,329,384,348,332,358,386,341,381,362,331,342,361,338,382,358,318,
   381,342,372,378,338,362,358,372,348,339,372,338,361,372,352,402,358,382,368,372,368,348,378,352,401,
   332,368,382,358,372,368,361,372,381,352,426,391,352,412,409,358,418,412,368,402,398,361,409,418,382,
   412,398,368,402,358,391,402,378,409,372,398,412,388,368,409,402,391,368,412,388,352,402,391,398,412,
   398,372,391,358,402,388,401,368,382,348,372,428,388,368,372,398,381,412,368,391,402,378,392,398,388,
   391,378,402,388,368,418,391,378,402,388,412,398,402,381,368,391,378,352,398,382,368,391,402,372,398,
   382,391,368,388,402,378,372,392,412,381,398,412,402,368,352,391,378,402,381,368,398,388,419,378,409,
   422],
  [268,286,291,302,312,318,331,342,362,348,342,372,342,331,376,402,404,378,372,352,402,398,422,381,401,
   428,402,412,428,388,421,402,428,418,422,408,401,388,418,438,462,432,448,438,441,422,482,458,488,441,
   488,458,472,468,438,482,468,452,432,468,482,478,472,451,468,448,472,438,481,478,522,498,458,482,468,
   478,458,472,481,468,458,482,462,471,488,468,498,481,468,478,472,482,448,468,489,478,468,458,481,432,
   472,482,488,458,478,468,471,441,482,458,488,472,458,481,468,461,478,472,458,449,482,468,461,489,478,
   468,461,478,472,458,468,509,472,461,478,468,458,481,472,462,468,496,478,461,472,482,468,458,438,472,
   481,462,468,488,472,498,478,468,461,482,472,458,478,468,492,482,468,461,478,472,519,482,468,458,478,
   432,468,482,462,478,468,461,482,472,488,431,468,478,461,472,482,468,458,482,471,468,511,488,478,471,
   488],
  [282,296,302,312,322,336,348,372,378,376,368,358,416,402,432,438,462,438,456,464,454,472,468,458,454,
   501,492,498,491,512,492,524,466,512,521,532,488,516,548,532,541,552,536,518,538,544,538,551,558,562,
   596,541,538,562,558,561,606,578,598,602,612,558,562,591,602,571,618,582,598,608,562,538,582,609,556,
   558,562,548,571,558,568,561,602,591,582,558,581,592,578,514,562,572,588,578,548,582,572,558,591,568,
   582,568,588,544,578,562,581,572,591,578,612,568,582,572,588,578,561,582,591,568,581,572,549,551,582,
   568,592,578,561,588,581,602,572,581,568,591,572,604,578,588,582,558,624,578,592,572,581,588,572,582,
   572,588,581,602,612,591,578,602,582,588,578,592,602,568,591,581,588,542,552,572,602,561,578,572,591,
   568,582,621,578,572,558,591,578,602,588,582,568,561,531,588,578,591,612,578,568,592,601,542,592,578,
   598],
  [314,328,346,308,351,374,373,423,422,469,462,446,506,513,536,534,548,552,572,556,558,556,557,571,581,
   586,569,581,578,582,579,629,604,546,589,581,661,656,646,602,645,643,616,617,642,616,641,638,658,631,
   628,642,648,669,626,655,686,711,668,661,684,689,676,681,662,658,643,678,681,668,679,672,658,621,662,
   648,678,672,642,658,668,634,662,652,676,662,642,672,658,704,652,642,662,634,661,648,678,696,658,642,
   662,678,698,658,668,642,661,648,672,636,658,671,652,641,662,668,641,678,672,691,621,658,648,672,662,
   678,652,662,668,691,661,698,672,658,682,648,668,691,662,678,658,681,692,668,698,638,661,648,672,658,
   672,698,658,648,668,661,672,638,691,658,652,672,658,621,642,668,632,661,648,638,662,652,668,698,648,
   658,641,672,648,662,638,668,652,658,692,661,638,652,662,641,648,658,606,682,672,652,668,658,651,622,
   621]
];

const amiDistMap = [
  [349,362,351,332,328,344,358,366,321,368,348,362,391,342,358,361,356,372,392,348,362,371,358,368,361,
   372,358,348,331,362,352,342,358,348,379,361,348,372,401,342,358,372,381,362,371,348,358,341,402,369,
   362,369,358,372,381,368,358,348,382,352,338,381,368,342,332,341,352,358,348,371,358,368,362,348,331,
   372,386,368,358,378,361,372,358,368,348,352,372,338,352,368,358,371,348,362,368,352,358,372,341,332,
   368,358,352,362,341,358,371,348,362,388,386,368,358,348,362,372,358,348,382,368,358,381,361,388,352,
   372,358,348,361,368,388,358,351,362,372,358,348,338,371,352,362,382,368,358,381,368,361,348,372,358,
   368,358,381,372,358,401,368,349,362,352,371,358,348,372,388,378,368,358,372,349,361,368,382,348,371,
   381,358,368,342,378,361,388,371,349,391,382,358,348,368,362,372,381,358,368,349,362,389,371,358,332,
   373],
  [557,536,604,622,691,748,753,832,849,869,908,912,928,938,946,942,951,948,932,946,918,912,931,949,938,
   948,941,928,951,938,929,942,921,932,952,941,928,922,948,939,951,942,929,941,949,938,928,919,932,941,
   928,921,932,918,908,898,912,902,888,908,922,912,921,898,909,912,902,888,899,912,901,889,908,898,912,
   892,902,912,888,881,898,912,889,902,891,898,912,888,901,882,891,902,909,888,898,878,889,902,868,899,
   888,901,878,892,902,879,891,868,888,902,878,891,899,881,889,902,878,892,901,879,888,902,879,868,891,
   899,888,878,902,891,881,899,888,879,902,889,878,898,891,881,902,888,878,899,891,879,868,888,901,879,
   891,902,879,889,901,888,878,899,891,902,879,888,901,912,889,899,888,878,902,891,899,888,912,901,889,
   899,888,912,902,879,891,909,898,889,912,901,888,912,921,899,889,909,898,921,912,899,922,879,909,918,
   919],
  [726,694,751,769,906,938,948,952,958,961,952,959,962,951,958,963,949,958,962,951,958,961,948,958,962,
   951,958,962,948,959,963,951,958,961,949,958,962,951,957,963,948,958,961,952,959,963,949,958,961,951,
   958,949,961,952,948,938,951,958,948,938,951,941,948,938,952,941,948,938,951,929,942,951,938,948,941,
   948,938,951,942,948,938,952,941,929,951,942,948,938,951,929,941,948,938,929,951,942,948,932,941,951,
   941,952,938,928,948,941,952,938,929,921,942,951,929,938,952,941,928,951,942,919,938,951,942,929,951,
   942,929,951,938,948,929,941,952,938,928,951,942,929,951,938,929,952,941,948,929,938,951,942,929,951,
   938,929,951,942,928,951,938,929,952,941,951,928,938,952,941,929,951,938,929,952,941,948,929,938,951,
   941,928,952,938,929,951,942,929,951,938,929,952,941,948,938,929,951,942,948,929,938,951,912,941,952,
   953],
  [789,784,878,932,948,958,962,961,952,958,962,968,959,952,961,958,969,961,958,966,961,958,968,961,958,
   966,958,961,968,958,961,966,958,961,968,958,961,966,958,962,968,958,961,966,958,961,968,958,961,966,
   958,948,956,951,958,948,951,958,949,952,958,951,948,958,951,949,958,951,948,958,951,948,958,951,949,
   958,951,948,958,951,949,958,951,941,952,958,951,948,958,951,949,958,951,948,958,951,948,958,951,949,
   951,958,949,952,958,948,951,958,949,952,958,948,951,958,949,952,958,941,951,958,949,952,958,948,951,
   958,949,952,958,948,951,931,952,958,949,951,958,949,952,958,948,951,958,949,952,958,948,951,958,949,
   951,958,949,952,958,948,951,958,949,952,958,948,951,958,949,952,958,948,951,958,949,952,958,948,951,
   958,949,952,958,941,951,958,949,952,958,948,951,958,949,952,958,948,951,958,949,952,958,948,961,938,
   952],
  [891,846,912,952,968,972,969,978,971,976,969,978,972,976,969,978,971,976,972,968,978,971,976,969,978,
   971,976,969,978,972,976,969,978,971,976,969,978,972,976,969,978,971,976,969,978,972,962,978,971,976,
   969,978,972,976,969,978,971,976,969,962,958,968,961,958,966,959,968,962,958,967,961,958,968,962,959,
   968,961,958,966,962,959,968,961,958,967,962,958,968,961,959,966,962,958,968,961,959,967,962,958,968,
   961,959,967,962,958,968,961,959,966,962,958,968,961,959,967,962,958,968,961,959,966,962,958,968,961,
   959,967,962,958,968,961,959,966,962,958,968,961,959,967,962,958,968,961,959,966,962,958,968,961,959,
   967,962,958,968,961,959,966,962,958,968,961,959,967,962,958,968,961,959,966,962,958,968,961,959,967,
   962,958,968,961,959,966,962,958,968,961,959,967,962,958,968,961,959,966,962,958,968,961,969,972,976,
   978],
  [932,912,968,981,988,991,987,993,982,989,994,988,991,983,989,996,988,999,991,987,993,998,989,991,987,
   998,991,988,993,999,989,992,987,998,991,988,993,999,989,992,998,991,999,988,997,991,988,998,992,987,
   991,982,979,984,981,978,982,971,979,968,972,961,948,962,971,959,968,972,961,969,972,958,969,971,962,
   968,958,971,969,961,972,968,974,982,971,958,969,972,961,969,972,958,968,979,971,968,981,972,961,969,
   972,968,958,971,969,982,971,962,969,972,968,958,971,982,969,961,972,969,968,982,969,972,981,968,959,
   971,969,982,972,961,969,972,968,981,969,958,982,971,962,969,972,968,958,971,983,969,972,981,969,971,
   983,972,969,968,981,972,969,982,971,968,972,969,971,982,972,969,981,983,971,968,972,969,981,972,968,
   982,971,969,983,972,968,971,969,981,983,972,969,968,982,971,969,972,981,972,968,983,981,969,972,983,
   969],
  [934,942,978,991,996,999,992,1000,998,991,1000,997,992,999,998,991,1000,996,992,999,998,991,1000,997,992,
   999,998,991,1000,996,992,999,997,991,1000,996,989,998,992,988,991,982,989,988,979,981,978,982,976,989,
   972,968,979,971,981,978,969,982,971,968,958,962,971,959,962,958,948,961,952,949,951,941,952,961,948,
   952,961,948,951,962,958,949,952,961,948,951,941,952,962,949,951,962,938,952,941,948,961,952,949,962,
   941,952,961,948,951,962,949,941,952,961,948,951,962,949,941,952,961,949,962,948,951,962,949,941,952,
   962,948,961,952,949,962,971,951,948,962,952,961,949,952,961,948,962,951,961,949,952,961,962,949,961,
   961,949,962,958,951,962,948,961,952,962,958,949,962,958,951,962,949,958,971,962,951,958,962,949,961,
   958,962,949,961,958,951,962,958,949,961,962,951,958,962,949,958,951,962,961,972,958,961,951,972,962,
   968]
];

const panelData = [
  [f1Task, f1Dist, f1DistMap],
  [ariTask, ariDist, ariDistMap],
  [amiTask, amiDist, amiDistMap]
];

// tab10 colours
const colors = ['#1f77b4', '#ff7f0e', '#2ca02c', '#d62728', '#9467bd', '#8c564b', '#e377c2'];

const font = 'DejaVu Sans';
const colLeft = [61.5, 718.8, 1374.8];
const rowTop = [26.6, 678.7, 1330];
const plotW = 549;
const plotH = 545;

function toPoints(milli) {
  return milli.map((v, i) => [epochs[i], v / 1000]);
}

const chart = echarts.init(document.getElementById('chart'), null, { renderer: 'canvas' });

const grids = [], xAxes = [], yAxes = [], legends = [], series = [], texts = [];

for (let r = 0; r < 3; r++) {
  for (let c = 0; c < 3; c++) {
    const k = r * 3 + c;
    const left = colLeft[c], top = rowTop[r];
    grids.push({
      left: left, top: top, width: plotW, height: plotH,
      show: true, borderColor: '#000', borderWidth: 1.1, containLabel: false
    });
    xAxes.push({
      gridIndex: k, type: 'value', min: -10, max: 210,
      name: 'Epoch', nameLocation: 'middle', nameGap: 28,
      nameTextStyle: { fontFamily: font, fontSize: 14, color: '#000' },
      axisLine: { show: true, onZero: false, lineStyle: { color: '#000', width: 1.1 } },
      axisTick: { show: true, length: 5, customValues: xTicks, lineStyle: { color: '#000', width: 1.1 } },
      axisLabel: { customValues: xTicks, margin: 9, fontFamily: font, fontSize: 14, color: '#000' },
      splitLine: { show: false }
    });
    yAxes.push({
      gridIndex: k, type: 'value', min: yLimits[r][c][0], max: yLimits[r][c][1],
      name: rowMetrics[r], nameLocation: 'middle', nameGap: 38,
      nameTextStyle: { fontFamily: font, fontSize: 14, color: '#000' },
      axisLine: { show: true, onZero: false, lineStyle: { color: '#000', width: 1.1 } },
      axisTick: { show: true, length: 5, customValues: yTicks[r][c], lineStyle: { color: '#000', width: 1.1 } },
      axisLabel: {
        customValues: yTicks[r][c], margin: 10, fontFamily: font, fontSize: 14, color: '#000',
        formatter: v => v.toFixed(1)
      },
      splitLine: { show: false }
    });
    legends.push({
      data: seriesNames, orient: 'vertical',
      left: left + 7.4, top: top + 7,
      itemWidth: 29, itemHeight: 10, itemGap: 7,
      padding: [5, 5, 5, 5],
      backgroundColor: 'rgba(255,255,255,0.8)',
      borderColor: '#cccccc', borderWidth: 1, borderRadius: 3,
      selectedMode: false, z: 30,
      textStyle: { fontFamily: font, fontSize: 14, color: '#000', lineHeight: 14, padding: [0, 0, 0, 6] }
    });
    texts.push({
      type: 'text', x: left + plotW / 2, y: top - 12.5, silent: true,
      style: {
        text: colTitles[c], font: '11px "DejaVu Sans"', fill: '#000',
        align: 'center', verticalAlign: 'middle', textAlign: 'center', textVerticalAlign: 'middle'
      }
    });
    panelData[r][c].forEach((vals, s) => {
      series.push({
        type: 'line', name: seriesNames[s], xAxisIndex: k, yAxisIndex: k,
        data: toPoints(vals),
        color: colors[s],
        symbol: 'circle', symbolSize: 8.3, showSymbol: true, showAllSymbol: true,
        lineStyle: { width: 2.1, color: colors[s] },
        itemStyle: { color: colors[s] },
        emphasis: { disabled: true },
        silent: true, z: 2 + s
      });
    });
  }
}

chart.setOption({
  animation: false,
  backgroundColor: '#fff',
  textStyle: { fontFamily: font },
  grid: grids,
  xAxis: xAxes,
  yAxis: yAxes,
  legend: legends,
  graphic: { elements: texts },
  series: series
});
</script>
</body>
</html>
